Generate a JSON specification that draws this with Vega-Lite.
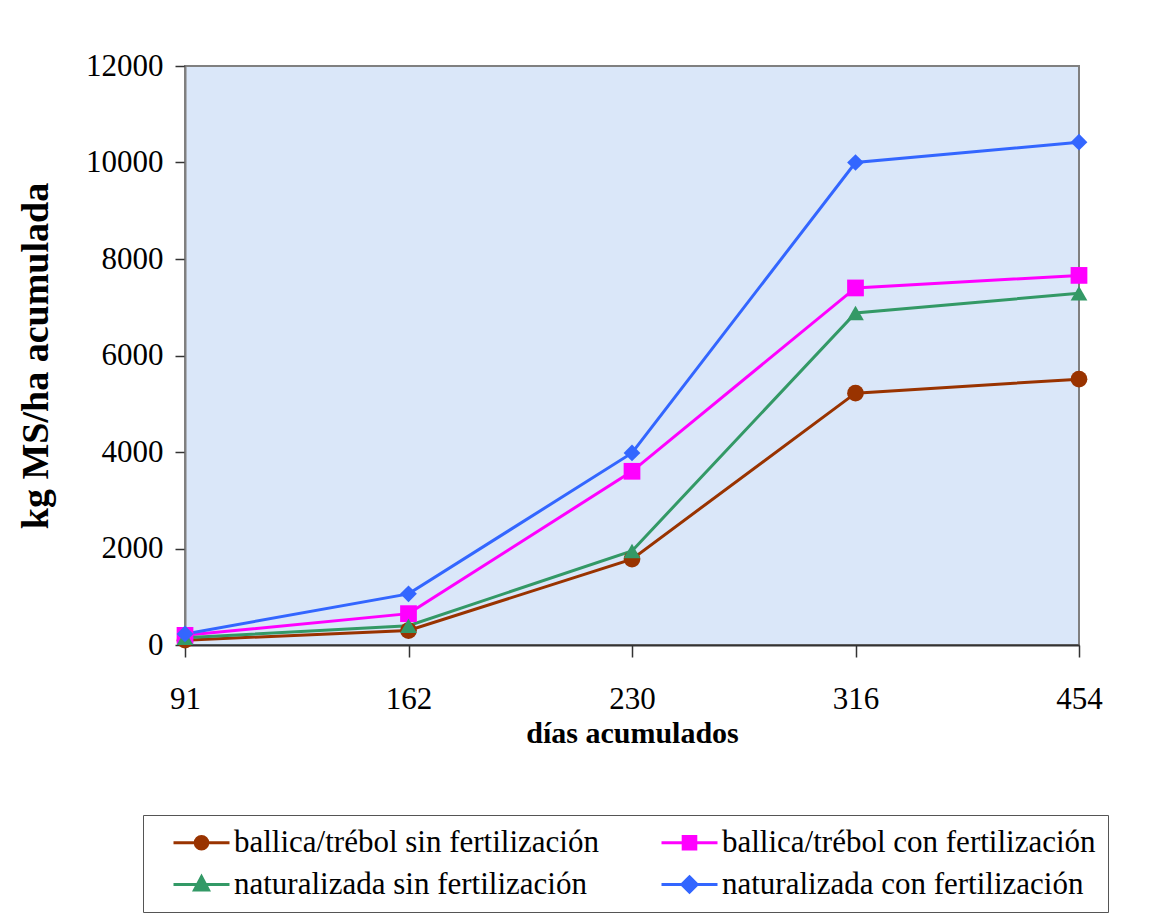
{
  "$schema": "https://vega.github.io/schema/vega-lite/v6.json",
  "width": 894,
  "height": 579,
  "autosize": {"type": "none"},
  "padding": {"left": 185, "top": 66, "right": 71, "bottom": 279},
  "background": "white",
  "config": {
    "font": "Liberation Serif",
    "view": {"fill": "#dae7f9", "stroke": "#808080", "strokeWidth": 2}
  },
  "data": {
    "values": [
      {"serie": "ballica/trébol sin fertilización", "dias": "91", "kg": 100},
      {"serie": "ballica/trébol sin fertilización", "dias": "162", "kg": 300},
      {"serie": "ballica/trébol sin fertilización", "dias": "230", "kg": 1780},
      {"serie": "ballica/trébol sin fertilización", "dias": "316", "kg": 5220},
      {"serie": "ballica/trébol sin fertilización", "dias": "454", "kg": 5510},
      {"serie": "ballica/trébol con fertilización", "dias": "91", "kg": 200},
      {"serie": "ballica/trébol con fertilización", "dias": "162", "kg": 650},
      {"serie": "ballica/trébol con fertilización", "dias": "230", "kg": 3600},
      {"serie": "ballica/trébol con fertilización", "dias": "316", "kg": 7400},
      {"serie": "ballica/trébol con fertilización", "dias": "454", "kg": 7660},
      {"serie": "naturalizada sin fertilización", "dias": "91", "kg": 150},
      {"serie": "naturalizada sin fertilización", "dias": "162", "kg": 400},
      {"serie": "naturalizada sin fertilización", "dias": "230", "kg": 1950},
      {"serie": "naturalizada sin fertilización", "dias": "316", "kg": 6880},
      {"serie": "naturalizada sin fertilización", "dias": "454", "kg": 7290},
      {"serie": "naturalizada con fertilización", "dias": "91", "kg": 230},
      {"serie": "naturalizada con fertilización", "dias": "162", "kg": 1060},
      {"serie": "naturalizada con fertilización", "dias": "230", "kg": 3980},
      {"serie": "naturalizada con fertilización", "dias": "316", "kg": 10000},
      {"serie": "naturalizada con fertilización", "dias": "454", "kg": 10420}
    ]
  },
  "encoding": {
    "x": {
      "field": "dias",
      "type": "ordinal",
      "sort": null,
      "scale": {"type": "point", "domain": ["91", "162", "230", "316", "454"], "padding": 0},
      "axis": {
        "title": "días acumulados",
        "titleFont": "Liberation Serif",
        "titleFontSize": 30,
        "titleFontWeight": "bold",
        "titleColor": "black",
        "titlePadding": 4,
        "labelFont": "Liberation Serif",
        "labelFontSize": 31,
        "labelColor": "black",
        "labelAngle": 0,
        "labelPadding": 27,
        "tickSize": 12,
        "tickColor": "#333333",
        "tickWidth": 1.5,
        "domainColor": "#333333",
        "domainWidth": 2,
        "grid": false
      }
    },
    "y": {
      "field": "kg",
      "type": "quantitative",
      "scale": {"domain": [0, 12000], "nice": false},
      "axis": {
        "title": "kg MS/ha acumulada",
        "titleFont": "Liberation Serif",
        "titleFontSize": 38,
        "titleFontWeight": "bold",
        "titleColor": "black",
        "titlePadding": 30,
        "values": [0, 2000, 4000, 6000, 8000, 10000, 12000],
        "format": "d",
        "labelFont": "Liberation Serif",
        "labelFontSize": 31,
        "labelColor": "black",
        "labelPadding": 12,
        "tickSize": 10,
        "tickColor": "#333333",
        "tickWidth": 1.5,
        "domainColor": "#808080",
        "domainWidth": 2,
        "grid": false
      }
    }
  },
  "layer": [
    {
      "mark": {"type": "line", "strokeWidth": 3},
      "encoding": {
        "color": {
          "field": "serie",
          "type": "nominal",
          "scale": {
            "domain": ["ballica/trébol sin fertilización", "ballica/trébol con fertilización", "naturalizada sin fertilización", "naturalizada con fertilización"],
            "range": ["#993300", "#ff00ff", "#339966", "#3366ff"]
          },
          "legend": null
        }
      }
    },
    {
      "mark": {"type": "point", "filled": true, "size": 280, "opacity": 1},
      "encoding": {
        "color": {
          "field": "serie",
          "type": "nominal",
          "scale": {
            "domain": ["ballica/trébol sin fertilización", "ballica/trébol con fertilización", "naturalizada sin fertilización", "naturalizada con fertilización"],
            "range": ["#993300", "#ff00ff", "#339966", "#3366ff"]
          },
          "legend": null
        },
        "shape": {
          "field": "serie",
          "type": "nominal",
          "scale": {
            "domain": ["ballica/trébol sin fertilización", "ballica/trébol con fertilización", "naturalizada sin fertilización", "naturalizada con fertilización"],
            "range": ["circle", "square", "triangle-up", "diamond"]
          },
          "legend": null
        }
      }
    },
    {
      "transform": [{"filter": "false"}],
      "mark": {"type": "point", "filled": true, "opacity": 1, "strokeWidth": 3},
      "encoding": {
        "fill": {
          "field": "serie",
          "type": "nominal",
          "scale": {
            "domain": ["ballica/trébol sin fertilización", "ballica/trébol con fertilización", "naturalizada sin fertilización", "naturalizada con fertilización"],
            "range": ["#993300", "#ff00ff", "#339966", "#3366ff"]
          },
          "legend": {
            "orient": "none", "legendX": -42, "legendY": 749, "columns": 2, "direction": "horizontal", "title": null,
            "labelFont": "Liberation Serif", "labelFontSize": 31, "labelColor": "black", "labelLimit": 0,
            "symbolSize": 784, "symbolStrokeWidth": 3, "symbolOffset": 31, "labelOffset": 17,
            "columnPadding": 44, "rowPadding": 10, "padding": 12,
            "strokeColor": "#555555", "fillColor": "white"
          }
        },
        "stroke": {
          "field": "serie",
          "type": "nominal",
          "scale": {
            "domain": ["ballica/trébol sin fertilización", "ballica/trébol con fertilización", "naturalizada sin fertilización", "naturalizada con fertilización"],
            "range": ["#993300", "#ff00ff", "#339966", "#3366ff"]
          },
          "legend": {
            "orient": "none", "legendX": -42, "legendY": 749, "columns": 2, "direction": "horizontal", "title": null,
            "labelFont": "Liberation Serif", "labelFontSize": 31, "labelColor": "black", "labelLimit": 0,
            "symbolSize": 784, "symbolStrokeWidth": 3, "symbolOffset": 31, "labelOffset": 17,
            "columnPadding": 44, "rowPadding": 10, "padding": 12,
            "strokeColor": "#555555", "fillColor": "white"
          }
        },
        "shape": {
          "field": "serie",
          "type": "nominal",
          "scale": {
            "domain": ["ballica/trébol sin fertilización", "ballica/trébol con fertilización", "naturalizada sin fertilización", "naturalizada con fertilización"],
            "range": [
              "M-2,0H2M0.45,0A0.45,0.45,0,1,1,-0.45,0A0.45,0.45,0,1,1,0.45,0Z",
              "M-2,0H2M-0.45,-0.45H0.45V0.45H-0.45Z",
              "M-2,0H2M0,-0.55L0.5,0.4H-0.5Z",
              "M-2,0H2M0,-0.55L0.55,0L0,0.55L-0.55,0Z"
            ]
          },
          "legend": {
            "orient": "none", "legendX": -42, "legendY": 749, "columns": 2, "direction": "horizontal", "title": null,
            "labelFont": "Liberation Serif", "labelFontSize": 31, "labelColor": "black", "labelLimit": 0,
            "symbolSize": 784, "symbolStrokeWidth": 3, "symbolOffset": 31, "labelOffset": 17,
            "columnPadding": 44, "rowPadding": 10, "padding": 12,
            "strokeColor": "#555555", "fillColor": "white"
          }
        }
      }
    }
  ],
  "resolve": {"scale": {"shape": "independent", "fill": "independent", "stroke": "independent"}}
}
